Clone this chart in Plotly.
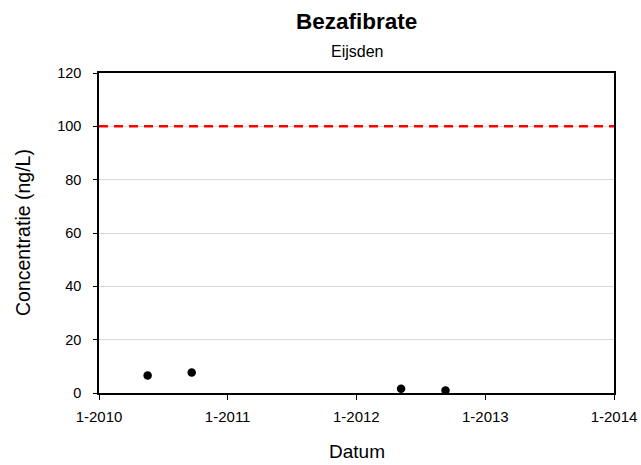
import plotly.graph_objects as go

dates = ["2010-05-19", "2010-09-21", "2012-05-07", "2012-09-10"]
values = [6.6, 7.7, 1.6, 0.9]
limit_value = 100
tick_dates = ["2010-01-01", "2011-01-01", "2012-01-01", "2013-01-01", "2014-01-01"]
tick_labels = ["1-2010", "1-2011", "1-2012", "1-2013", "1-2014"]
y_ticks = [0, 20, 40, 60, 80, 100, 120]

FONT = "Liberation Sans"

fig = go.Figure()
fig.add_trace(go.Scatter(
    x=dates, y=values, mode="markers",
    marker=dict(color="black", size=8.5),
    showlegend=False, cliponaxis=False,
))
fig.add_hline(y=limit_value, line=dict(color="#ff0000", width=2.5, dash="9px,6px"), layer="above")

fig.update_layout(
    width=641, height=465,
    margin=dict(l=99, r=27, t=73, b=72),
    paper_bgcolor="white", plot_bgcolor="white",
    font=dict(family=FONT, color="black", size=14),
    annotations=[
        dict(text="<b>Bezafibrate</b>", x=0.5, xref="paper", y=1, yref="paper",
             xanchor="center", yanchor="middle", yshift=52, showarrow=False,
             font=dict(size=22.5, family=FONT)),
        dict(text="Eijsden", x=0.5, xref="paper", y=1, yref="paper",
             xanchor="center", yanchor="middle", yshift=22, showarrow=False,
             font=dict(size=16, family=FONT)),
        dict(text="Datum", x=0.5, xref="paper", y=0, yref="paper",
             xanchor="center", yanchor="middle", yshift=-58, showarrow=False,
             font=dict(size=19, family=FONT)),
        dict(text="Concentratie (ng/L)", x=0, xref="paper", y=0.5, yref="paper",
             xanchor="center", yanchor="middle", xshift=-76, textangle=-90,
             showarrow=False, font=dict(size=19.5, family=FONT)),
    ],
)
fig.update_xaxes(
    type="date", range=[tick_dates[0], tick_dates[-1]],
    tickvals=tick_dates, ticktext=tick_labels,
    ticks="outside", ticklen=5, tickcolor="black", tickwidth=1,
    ticklabelstandoff=4,
    showline=True, linecolor="black", linewidth=1.5, mirror=True,
    showgrid=False, zeroline=False, automargin=False,
    tickfont=dict(size=15),
)
fig.update_yaxes(
    range=[0, 120], tickvals=y_ticks,
    ticks="outside", ticklen=4, tickcolor="black", tickwidth=1,
    ticklabelstandoff=9,
    showline=True, linecolor="black", linewidth=1.5, mirror=True,
    showgrid=True, gridcolor="#d9d9d9", gridwidth=1, zeroline=False,
    automargin=False,
    tickfont=dict(size=14.5),
)

fig.write_html("out.html", config={"displayModeBar": False},
               post_script="document.body.style.margin='0';")
